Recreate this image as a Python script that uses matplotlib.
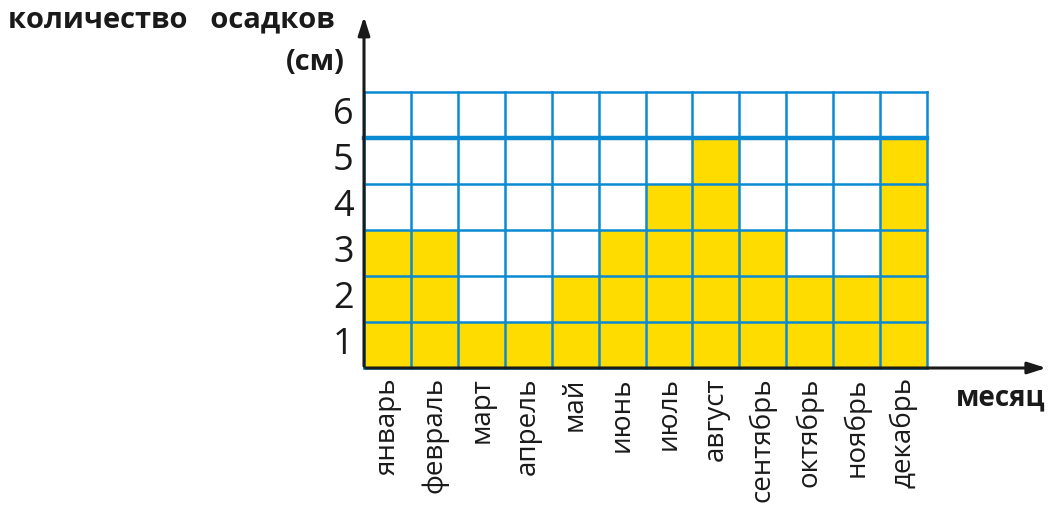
import matplotlib.pyplot as plt
from matplotlib.patches import Rectangle

plt.rcParams['font.family'] = ['Open Sans', 'DejaVu Sans']

months = ["январь", "февраль", "март", "апрель", "май", "июнь",
          "июль", "август", "сентябрь", "октябрь", "ноябрь", "декабрь"]
rain = [3, 3, 1, 1, 2, 3, 4, 5, 3, 2, 2, 5]
yticks = [1, 2, 3, 4, 5, 6]

W, H = 1051, 517
fig = plt.figure(figsize=(W / 100, H / 100), dpi=100)
ax = fig.add_axes([364 / W, (H - 368) / H, 563 / W, 276 / H])
ax.set_xlim(0, 12)
ax.set_ylim(0, 6)
ax.axis("off")

yellow = "#ffdc00"
blue = "#0a8ad2"

for i, v in enumerate(rain):
    ax.add_patch(Rectangle((i, 0), 1, v, facecolor=yellow, edgecolor="none", zorder=1))

for x in range(13):
    ax.plot([x, x], [0, 6], color=blue, lw=1.8, zorder=2, clip_on=False)
for y in range(7):
    ax.plot([0, 12], [y, y], color=blue, lw=3.2 if y == 5 else 1.8, zorder=2, clip_on=False)

# axes with arrows
ax.annotate("", xy=(0, 7.7), xytext=(0, -0.02), xycoords="data",
            arrowprops=dict(arrowstyle="-|>,head_length=1.1,head_width=0.35", color="#1a1a1a", lw=2.2),
            annotation_clip=False, zorder=5)
ax.annotate("", xy=(14.6, 0), xytext=(-0.02, 0), xycoords="data",
            arrowprops=dict(arrowstyle="-|>,head_length=1.1,head_width=0.35", color="#1a1a1a", lw=2.2),
            annotation_clip=False, zorder=5)

for v in yticks:
    ax.text(-0.22, v - 0.5, str(v), ha="right", va="center", fontsize=26,
            color="#1a1a1a", clip_on=False)

for i, m in enumerate(months):
    ax.text(i + 0.5, -0.2, m, rotation=90, ha="center", va="top", fontsize=20,
            fontweight="medium", color="#1a1a1a", clip_on=False)

fig.text(8 / W, 1 - 20 / H, "количество   осадков", ha="left", va="center",
         fontsize=21, fontweight="bold", color="#1a1a1a")
fig.text(345 / W, 1 - 62 / H, "(см)", ha="right", va="center",
         fontsize=21, fontweight="bold", color="#1a1a1a")
fig.text(1045 / W, 1 - 398 / H, "месяц", ha="right", va="center",
         fontsize=20, fontweight="bold", color="#1a1a1a")

fig.savefig("out.png", dpi=100, facecolor="white")
